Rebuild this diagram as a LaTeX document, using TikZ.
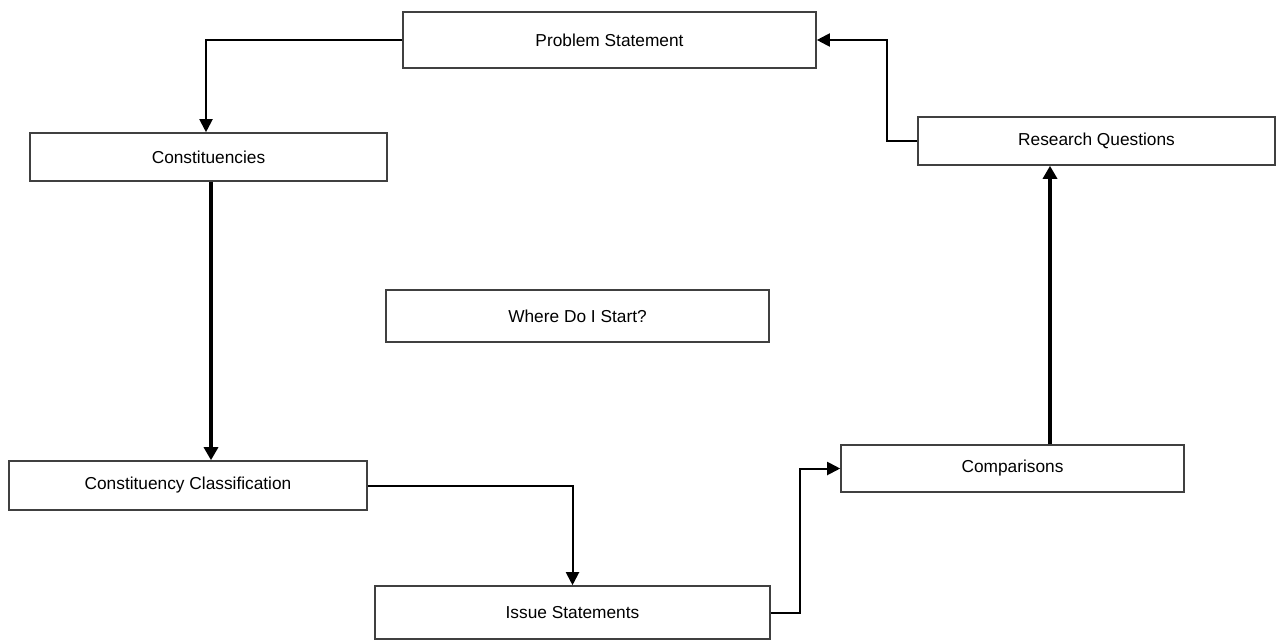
\documentclass[tikz,border=0pt]{standalone}
\usepackage{fontspec}
\setmainfont{Liberation Sans}
\usetikzlibrary{arrows.meta}
\begin{document}
\begin{tikzpicture}[x=1pt,y=-1pt,
  box/.style={draw=black!75, line width=1.6pt, fill=white, inner sep=0pt,
    font=\fontsize{17.3}{20}\selectfont},
  link/.style={draw=black, line width=2pt,
    -{Triangle[length=13pt,width=13pt]}},
  thicklink/.style={draw=black, line width=3.2pt,
    -{Triangle[length=13pt,width=14pt]}}]
\useasboundingbox (0,0) rectangle (1276,640);
% boxes placed by their corners
\newcommand{\boxat}[6]{%
  \node[box, minimum width=#4-#2, minimum height=#5-#3] (#1)
    at ({(#2+#4)/2},{(#3+#5)/2}) {#6};}
\boxat{ps}{403}{12}{816}{68}{Problem Statement}
\boxat{con}{30}{133}{387}{181}{Constituencies}
\boxat{rq}{918}{117}{1275}{165}{Research Questions}
\boxat{wdis}{386}{290}{769}{342}{Where Do I Start?}
\boxat{cc}{9}{461}{367}{510}{Constituency Classification}
\boxat{cmp}{841}{445}{1184}{492}{Comparisons}
\boxat{is}{375}{586}{770}{639}{Issue Statements}
% guide coordinates for the vertical runs
\coordinate (vl) at (211,0);
\coordinate (vr) at (1050,0);
\coordinate (bend) at (800,0);
% connectors
\draw[link] (ps.west) -| ([xshift=-2.5pt]con.north);
\draw[thicklink] (con.south -| vl) -- (cc.north -| vl);
\draw[link] (cc.east) -| (is.north);
\draw[link] (is.east) -- (is.east -| bend) |- (cmp.west);
\draw[thicklink] (cmp.north -| vr) -- (rq.south -| vr);
\draw[link] (rq.west) -- ++(-30,0) |- (ps.east);
\end{tikzpicture}
\end{document}
